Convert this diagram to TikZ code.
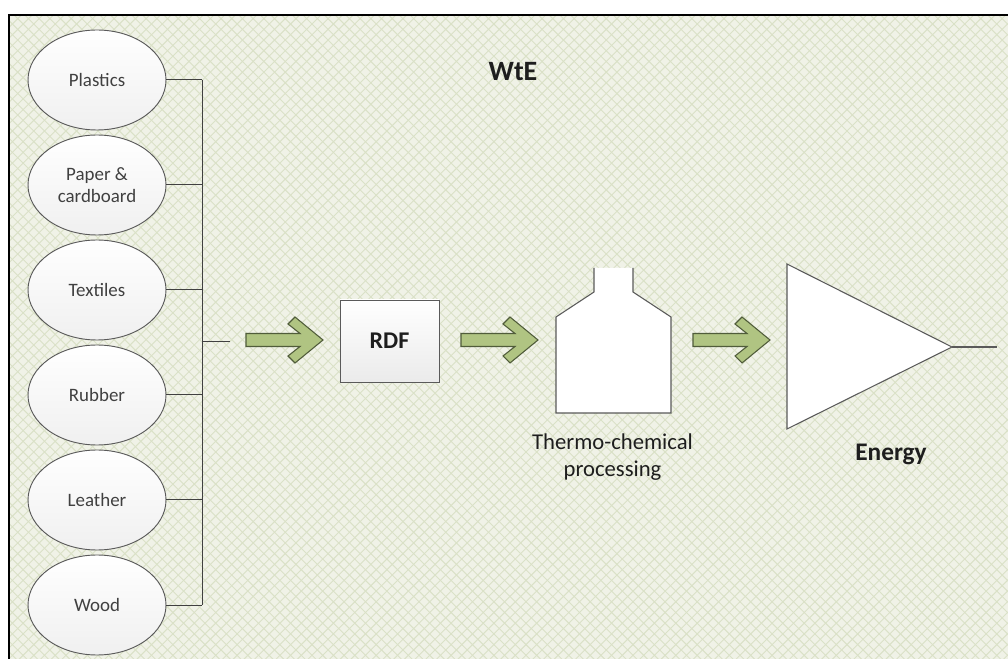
\documentclass[tikz,border=0pt]{standalone}
\usepackage{fontspec}
\setmainfont{Carlito}
\usetikzlibrary{shapes.geometric}

\definecolor{bgfill}{RGB}{240,242,231}
\definecolor{hatchc}{RGB}{218,225,199}
\definecolor{arrowfill}{RGB}{176,196,130}
\definecolor{arrowline}{RGB}{80,92,58}
\definecolor{edgegrey}{RGB}{90,90,90}
\definecolor{inkc}{RGB}{30,30,30}

\tikzset{
  hatch/.style={draw=hatchc, line width=0.7pt},
  source/.style={ellipse, draw=edgegrey, line width=0.7pt,
    top color=white, bottom color=white!94!black,
    minimum width=103.5pt, minimum height=75pt, inner sep=0pt,
    align=center, font=\fontsize{14.2}{16.5}\selectfont, text=inkc!85!white},
  stagebox/.style={rectangle, draw=edgegrey, line width=0.7pt,
    top color=white, bottom color=white!92!black,
    minimum width=74.25pt, minimum height=61.5pt, inner sep=0pt,
    font=\bfseries\fontsize{18}{20}\selectfont, text=inkc},
  link/.style={draw=black!75, line width=0.75pt},
  caption/.style={anchor=base, text=inkc, inner sep=0pt},
  blockarrow/.pic={
    \path[fill=arrowfill, draw=arrowline, line width=0.8pt, line join=miter]
      (0,-6.5) -- (54,-6.5) -- (42,-16) -- (49,-23) -- (77,0)
      -- (49,23) -- (42,16) -- (54,6.5) -- (0,6.5) -- cycle;
  }
}

\begin{document}
\begin{tikzpicture}[x=0.75pt, y=-0.75pt]
  \useasboundingbox (0,0) rectangle (1008,659);
  \clip (0,0) rectangle (1008,659);

  % patterned panel
  \fill[bgfill] (9,15) rectangle (1012,663);
  \begin{scope}
    \clip (9,15) rectangle (1012,663);
    \foreach \k in {0,...,165} {
      \pgfmathsetmacro\a{\k*10.7}
      \draw[hatch] (\a-660,15) -- ++(660,660);
      \draw[hatch] (\a,15) -- ++(-660,660);
    }
  \end{scope}
  \draw[black, line width=1.3pt] (9,663) -- (9,15) -- (1012,15);

  % waste sources
  \node[source] (plastics) at (97,80)  {Plastics};
  \node[source] (paper)    at (97,185) {Paper \&\\cardboard};
  \node[source] (textiles) at (97,290) {Textiles};
  \node[source] (rubber)   at (97,395) {Rubber};
  \node[source] (leather)  at (97,500) {Leather};
  \node[source] (wood)     at (97,605) {Wood};

  % collecting bus
  \coordinate (bustop) at (202,80);
  \coordinate (busbot) at (202,605);
  \coordinate (stub)   at (230,342);
  \draw[link] (bustop) -- (busbot);
  \foreach \n in {plastics,paper,textiles,rubber,leather,wood}
    \draw[link] (\n.east) -- (\n.east -| bustop);
  \draw[link] (stub -| bustop) -- (stub);

  % process chain
  \pic at (246,340) {blockarrow};
  \node[stagebox] (rdf) at (389.5,341) {RDF};
  \pic at (461,340) {blockarrow};

  % reactor vessel
  \fill[white] (594,268) -- (594,292) -- (556,317) -- (556,413)
    -- (671,413) -- (671,317) -- (633,292) -- (633,268) -- cycle;
  \draw[edgegrey, line width=0.8pt] (594,268) -- (594,292) -- (556,317) -- (556,413)
    -- (671,413) -- (671,317) -- (633,292) -- (633,268);
  \node[caption, font=\fontsize{17}{20}\selectfont] (tc1) at (612.5,450) {Thermo-chemical};
  \node[caption, font=\fontsize{17}{20}\selectfont] (tc2) at (612.5,477) {processing};

  \pic at (693,340) {blockarrow};

  % energy output
  \coordinate (apex) at (952,347);
  \coordinate (outlet) at (997,347);
  \fill[white] (787,264) -- (apex) -- (787,429) -- cycle;
  \draw[edgegrey, line width=0.8pt, line join=miter] (787,264) -- (apex) -- (787,429) -- cycle;
  \draw[edgegrey, line width=0.8pt] (apex) -- (outlet);
  \node[caption, font=\bfseries\fontsize{19}{22}\selectfont] (energy) at (891,461) {Energy};

  % title
  \node[caption, font=\bfseries\fontsize{21}{24}\selectfont] (title) at (513,81) {WtE};
\end{tikzpicture}
\end{document}
